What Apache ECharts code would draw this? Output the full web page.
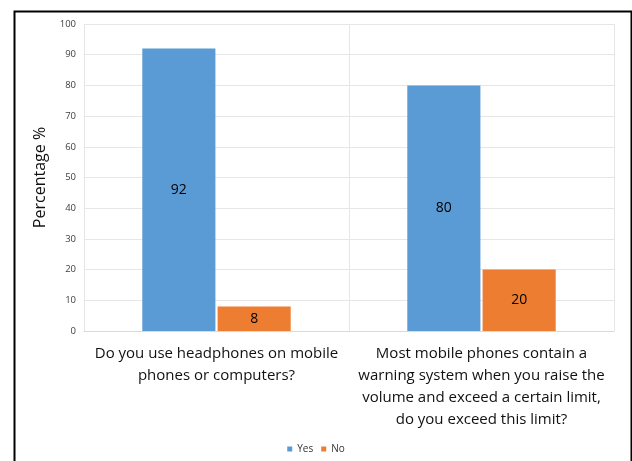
<!DOCTYPE html>
<html>
<head>
<meta charset="utf-8">
<script src="https://cdn.jsdelivr.net/npm/echarts@6/dist/echarts.min.js"></script>
<style>
  html, body { margin: 0; padding: 0; background: #fff; }
  #chart { width: 632px; height: 461px; }
</style>
</head>
<body>
<div id="chart"></div>
<script>
// Survey questions (category axis)
const questions = [
  'Do you use headphones on mobile\nphones or computers?',
  'Most mobile phones contain a\nwarning system when you raise the\nvolume and exceed a certain limit,\ndo you exceed this limit?'
];
// Answer shares in percent
const yesValues = [92, 80];
const noValues = [8, 20];
const seriesNames = ['Yes', 'No'];

const chart = echarts.init(document.getElementById('chart'));
const font = 'Open Sans, Noto Sans, sans-serif';

const labelStyle = {
  show: true,
  position: 'inside',
  color: '#000',
  fontSize: 14,
  fontFamily: font
};

chart.setOption({
  animation: false,
  textStyle: { fontFamily: font },
  graphic: [{
    type: 'rect',
    left: 12, top: 9,
    shape: { width: 617, height: 480 },
    style: { fill: 'none', stroke: '#000', lineWidth: 2 },
    z: 100
  }],
  grid: { left: 84, right: 18, top: 24, bottom: 130 },
  legend: {
    bottom: 2,
    left: 'center',
    itemWidth: 5,
    itemHeight: 5,
    itemGap: 8,
    icon: 'rect',
    textStyle: { fontSize: 10, color: '#333', fontFamily: font },
    data: seriesNames
  },
  xAxis: {
    type: 'category',
    data: questions,
    axisLine: { show: true, lineStyle: { color: '#d9d9d9' } },
    axisTick: { show: false },
    splitLine: { show: true, lineStyle: { color: '#e6e6e6' } },
    axisLabel: {
      color: '#111',
      fontSize: 15,
      lineHeight: 22,
      margin: 12,
      fontFamily: font,
      interval: 0
    }
  },
  yAxis: {
    type: 'value',
    min: 0, max: 100, interval: 10,
    name: 'Percentage %',
    nameLocation: 'middle',
    nameGap: 24,
    nameRotate: 90,
    nameTextStyle: { fontSize: 16, color: '#111', fontFamily: font },
    axisLine: { show: false },
    axisTick: { show: false },
    splitLine: { lineStyle: { color: '#e6e6e6' } },
    axisLabel: { fontSize: 9.5, color: '#404040', margin: 8, fontFamily: font }
  },
  series: [
    {
      name: seriesNames[0],
      type: 'bar',
      data: yesValues,
      barGap: '3%',
      barCategoryGap: '44%',
      itemStyle: { color: '#5b9bd5' },
      label: labelStyle
    },
    {
      name: seriesNames[1],
      type: 'bar',
      data: noValues,
      itemStyle: { color: '#ed7d31' },
      label: labelStyle
    }
  ]
});
</script>
</body>
</html>
